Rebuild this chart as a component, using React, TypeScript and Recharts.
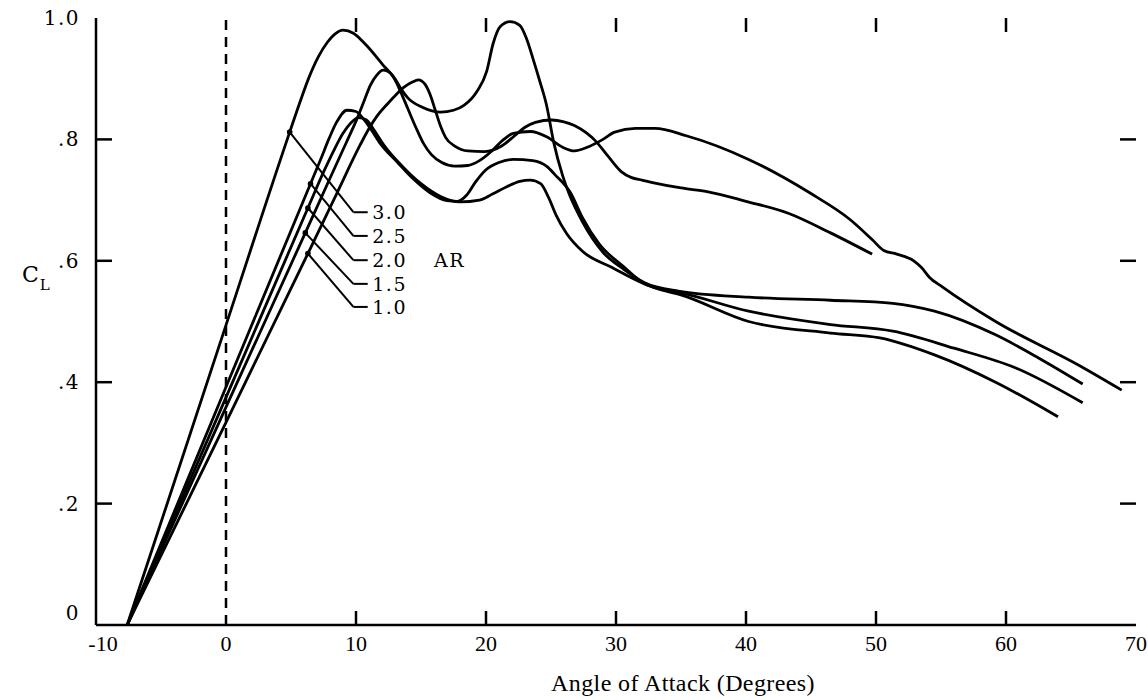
import { LineChart, Line, XAxis, YAxis, ReferenceLine, ReferenceDot, ReferenceArea } from 'recharts'

// angle of attack (deg) and lift coefficient, one pair of arrays per aspect ratio
const ar30Alpha = [-7.6, 0, 4.9, 5.7, 6.4, 7.1, 7.8, 8.4, 9.0, 9.8, 10.8, 12.1, 13.0, 13.5, 14.0, 15.1, 16.5, 17.5, 18.3, 19.3, 20.05, 20.55, 21.1, 21.85, 22.6, 23.1, 23.6, 24.15, 24.65, 25.2, 25.9, 26.4, 27.4, 29, 30.6, 32.2, 34.8, 40.2, 46.5, 51.3, 54.5, 59.2, 62.5, 65.9]
const ar30Cl = [0, 0.494, 0.812, 0.862, 0.903, 0.936, 0.96, 0.974, 0.98, 0.975, 0.955, 0.922, 0.9, 0.882, 0.868, 0.853, 0.845, 0.848, 0.856, 0.879, 0.912, 0.958, 0.986, 0.994, 0.988, 0.967, 0.934, 0.895, 0.857, 0.796, 0.74, 0.71, 0.665, 0.614, 0.586, 0.564, 0.55, 0.54, 0.535, 0.53, 0.517, 0.478, 0.44, 0.397]

const ar25Alpha = [-7.6, 0, 6.5, 7.3, 7.9, 8.5, 9.3, 10.0, 10.6, 11.2, 11.8, 13.2, 14.4, 15.7, 17, 17.8, 18.5, 19.2, 20, 21, 22.1, 23.6, 24.7, 25.3, 26.5, 27.4, 28.7, 30.6, 32.2, 33.5, 34.8, 40.2, 46.5, 51.3, 56, 60.8, 65.9]
const ar25Cl = [0, 0.392, 0.727, 0.768, 0.8, 0.828, 0.848, 0.846, 0.833, 0.815, 0.795, 0.762, 0.735, 0.712, 0.699, 0.698, 0.708, 0.73, 0.75, 0.762, 0.767, 0.765, 0.755, 0.742, 0.712, 0.672, 0.628, 0.59, 0.562, 0.553, 0.548, 0.517, 0.495, 0.484, 0.456, 0.423, 0.366]

const ar20Alpha = [-7.6, 0, 6.3, 7.5, 8.3, 9.0, 9.6, 10.2, 10.8, 11.4, 12.1, 13.5, 15, 16.5, 18, 19.5, 20.5, 21.6, 22.6, 23.4, 24.2, 24.8, 25.4, 26.2, 27.4, 29.7, 32.2, 33.5, 34.8, 40.2, 46.5, 50.3, 54.5, 59.2, 64]
const ar20Cl = [0, 0.375, 0.687, 0.746, 0.782, 0.81, 0.827, 0.836, 0.832, 0.815, 0.792, 0.757, 0.727, 0.706, 0.697, 0.7, 0.71, 0.722, 0.731, 0.733, 0.727, 0.705, 0.675, 0.645, 0.616, 0.589, 0.562, 0.552, 0.545, 0.5, 0.481, 0.473, 0.445, 0.4, 0.343]

const ar15Alpha = [-7.6, 0, 6.1, 8, 9.3, 10.1, 10.6, 11.1, 11.6, 12.1, 12.6, 13.0, 13.4, 14.0, 14.6, 15.2, 15.8, 16.6, 17.6, 18.6, 19.5, 20.4, 21.2, 22.1, 23.4, 24.7, 25.9, 26.8, 27.9, 29, 29.9, 31.5, 33, 35.4, 40.2, 44.9, 48, 49.7, 50.6, 51.6, 52.9, 53.5, 54.1, 55.1, 59.2, 65.6, 68.9]
const ar15Cl = [0, 0.359, 0.646, 0.736, 0.797, 0.835, 0.862, 0.889, 0.906, 0.914, 0.91, 0.898, 0.88, 0.85, 0.82, 0.793, 0.775, 0.762, 0.756, 0.757, 0.765, 0.78, 0.797, 0.81, 0.813, 0.804, 0.787, 0.781, 0.788, 0.8, 0.812, 0.818, 0.818, 0.806, 0.767, 0.712, 0.668, 0.635, 0.617, 0.611, 0.6, 0.589, 0.573, 0.557, 0.5, 0.428, 0.387]

const ar10Alpha = [-7.6, 0, 6.3, 8.5, 10.3, 11.0, 11.6, 12.4, 13.1, 13.7, 14.3, 14.8, 15.3, 15.7, 16.1, 16.5, 16.9, 17.6, 18.6, 19.9, 21.2, 22.2, 23.0, 23.8, 25.05, 26.0, 26.8, 27.7, 28.4, 29.4, 30.4, 31.2, 32, 33, 35, 37, 40, 43.3, 46.5, 49.7]
const ar10Cl = [0, 0.334, 0.612, 0.71, 0.79, 0.818, 0.838, 0.858, 0.874, 0.886, 0.894, 0.898, 0.891, 0.874, 0.848, 0.822, 0.803, 0.789, 0.781, 0.78, 0.789, 0.806, 0.82, 0.828, 0.832, 0.829, 0.823, 0.811, 0.798, 0.772, 0.747, 0.737, 0.733, 0.728, 0.72, 0.714, 0.698, 0.678, 0.646, 0.611]

const arNames = ['3.0', '2.5', '2.0', '1.5', '1.0']
const xTicks = [-10, 0, 10, 20, 30, 40, 50, 60, 70]
const yTicks = [0, 0.2, 0.4, 0.6, 0.8, 1.0]
const yTickText = ['0', '.2', '.4', '.6', '.8', '1.0']

const alphas = [ar30Alpha, ar25Alpha, ar20Alpha, ar15Alpha, ar10Alpha]
const cls = [ar30Cl, ar25Cl, ar20Cl, ar15Cl, ar10Cl]

// where each leader touches its curve, and the height of its tag
const leaderAlpha = [4.9, 6.5, 6.3, 6.1, 6.3]
const tagLevel = [0.68, 0.641, 0.601, 0.562, 0.524]
const kneeAlpha = 9.8
const tagEnd = 10.9

// inward frame ticks, lengths in axis units (1 deg = 13px, 1.0 CL = 607px)
const innerX = xTicks.filter((v) => v > -10 && v < 70 && v !== 0)
const innerY = yTicks.filter((v) => v > 0 && v < 1)
const xTickLen = 14 / 607
const yTickLen = 16 / 13
const halfX = 1.25 / 13
const halfY = 1.25 / 607

const toRows = (a: number[], c: number[]) => a.map((v, i) => ({ alpha: v, cl: c[i] }))

function clAt(a: number[], c: number[], x: number) {
  for (let i = 1; i < a.length; i++) {
    if (x <= a[i]) {
      const t = (x - a[i - 1]) / (a[i] - a[i - 1])
      return c[i - 1] + t * (c[i] - c[i - 1])
    }
  }
  return c[c.length - 1]
}

const serif = 'Liberation Serif, Times New Roman, serif'
const typed = 'DejaVu Serif, serif'

function BottomTick(p: any) {
  const v = p.payload.value
  return (
    <text x={p.x + (v === -10 ? 7 : 0)} y={p.y + 26} textAnchor="middle" fontFamily={serif} fontSize={22} fill="#000">
      {v}
    </text>
  )
}

function LeftTick(p: any) {
  const v = p.payload.value
  const i = yTicks.indexOf(v)
  return (
    <text x={p.x - 16} y={p.y + (v === 0 ? -5 : 7)} textAnchor="end" fontFamily={typed} fontSize={20} letterSpacing={1.5} fill="#000">
      {yTickText[i]}
    </text>
  )
}

const tagText = (txt: string) => (props: any) => {
  const vb = props.viewBox
  return (
    <text x={vb.x} y={vb.y + 7} fontFamily={typed} fontSize={19} letterSpacing={1.5} fill="#000">
      {txt}
    </text>
  )
}

const frame = { stroke: '#000', strokeWidth: 2.5 }

export default function App() {
  return (
    <div style={{ position: 'absolute', left: 0, top: 0, width: 1148, height: 700, background: '#fff' }}>
      <LineChart width={1148} height={700} margin={{ top: 18, right: 12, bottom: 35, left: 36 }}>
        <XAxis
          dataKey="alpha"
          type="number"
          domain={[-10, 70]}
          ticks={xTicks}
          interval={0}
          height={40}
          tickSize={0}
          tickMargin={0}
          tickLine={false}
          axisLine={frame}
          tick={BottomTick}
        />
        <XAxis xAxisId="top" orientation="top" type="number" domain={[-10, 70]} height={0} tick={false} tickLine={false} axisLine={frame} />
        <YAxis
          type="number"
          domain={[0, 1]}
          ticks={yTicks}
          interval={0}
          width={60}
          tickSize={0}
          tickMargin={0}
          tickLine={false}
          axisLine={frame}
          tick={LeftTick}
        />
        <YAxis yAxisId="right" orientation="right" type="number" domain={[0, 1]} width={0} tick={false} tickLine={false} axisLine={frame} />
        {innerX.map((v) => (
          <ReferenceLine key={'tt' + v} segment={[{ x: v, y: 1 }, { x: v, y: 1 - xTickLen }]} stroke="#000" strokeWidth={2.5} />
        ))}
        {innerX.map((v) => (
          <ReferenceLine key={'bt' + v} yAxisId="right" segment={[{ x: v, y: xTickLen }, { x: v, y: 0 }]} stroke="#000" strokeWidth={2.5} />
        ))}
        {innerX.map((v) => (
          <ReferenceArea key={'ba' + v} x1={v - halfX} x2={v + halfX} y1={0} y2={xTickLen} fill="#000" fillOpacity={1} stroke="none" ifOverflow="visible" />
        ))}
        {innerY.map((v) => (
          <ReferenceLine key={'lt' + v} xAxisId="top" segment={[{ x: -10 + yTickLen, y: v }, { x: -10, y: v }]} stroke="#000" strokeWidth={2.5} />
        ))}
        {innerY.map((v) => (
          <ReferenceArea key={'la' + v} x1={-10} x2={-10 + yTickLen} y1={v - halfY} y2={v + halfY} fill="#000" fillOpacity={1} stroke="none" ifOverflow="visible" />
        ))}
        {innerY.map((v) => (
          <ReferenceLine key={'rt' + v} xAxisId="top" segment={[{ x: 70 - yTickLen, y: v }, { x: 70, y: v }]} stroke="#000" strokeWidth={2.5} />
        ))}
        {innerY.map((v) => (
          <ReferenceArea key={'ra' + v} x1={70 - yTickLen} x2={70} y1={v - halfY} y2={v + halfY} fill="#000" fillOpacity={1} stroke="none" ifOverflow="visible" />
        ))}
        <ReferenceLine x={0} stroke="#000" strokeWidth={2.5} strokeDasharray="10 7" />
        {arNames.map((name, i) => (
          <Line
            key={name}
            name={name}
            data={toRows(alphas[i], cls[i])}
            dataKey="cl"
            type="monotone"
            dot={false}
            stroke="#000"
            strokeWidth={2.8}
            isAnimationActive={false}
          />
        ))}
        {arNames.map((name, i) => {
          const y0 = clAt(alphas[i], cls[i], leaderAlpha[i])
          return (
            <ReferenceLine
              key={'leader' + name}
              segment={[
                { x: leaderAlpha[i], y: y0 },
                { x: kneeAlpha, y: tagLevel[i] },
              ]}
              stroke="#000"
              strokeWidth={2}
            />
          )
        })}
        {arNames.map((name, i) => (
          <ReferenceLine
            key={'flat' + name}
            segment={[
              { x: kneeAlpha, y: tagLevel[i] },
              { x: tagEnd, y: tagLevel[i] },
            ]}
            stroke="#000"
            strokeWidth={2}
          />
        ))}
        {arNames.map((name, i) => (
          <ReferenceDot
            key={'dot' + name}
            x={leaderAlpha[i]}
            y={clAt(alphas[i], cls[i], leaderAlpha[i])}
            r={2.8}
            fill="#000"
            stroke="none"
          />
        ))}
        {arNames.map((name, i) => (
          <ReferenceDot
            key={'tag' + name}
            x={tagEnd + 0.35}
            y={tagLevel[i]}
            r={0}
            stroke="none"
            label={{ content: tagText(name) }}
          />
        ))}
        <ReferenceDot x={16.0} y={tagLevel[2]} r={0} stroke="none" label={{ content: tagText('AR') }} />
      </LineChart>
      <div style={{ position: 'absolute', left: 22, top: 262, fontFamily: typed, fontSize: 22, color: '#000', whiteSpace: 'nowrap' }}>
        C<span style={{ fontSize: 15, position: 'relative', top: 8, left: 1 }}>L</span>
      </div>
      <div
        style={{
          position: 'absolute',
          left: 683,
          top: 683,
          transform: 'translate(-50%, -50%)',
          fontFamily: serif,
          fontSize: 24,
          letterSpacing: 0.4,
          color: '#000',
          whiteSpace: 'nowrap',
        }}
      >
        Angle of Attack (Degrees)
      </div>
    </div>
  )
}
